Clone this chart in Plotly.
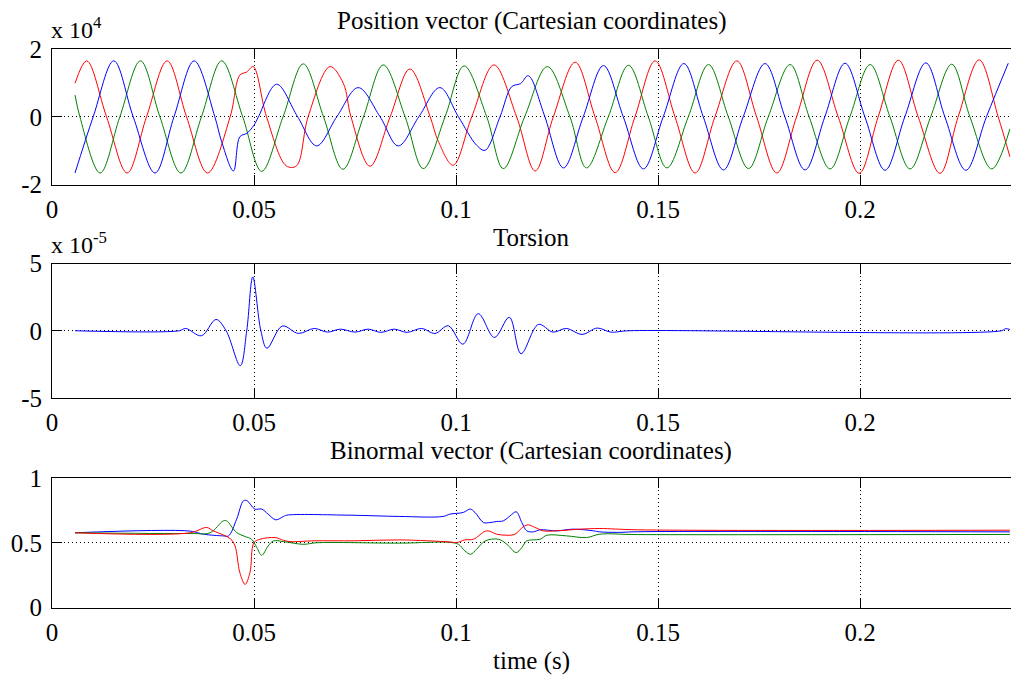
import plotly.graph_objects as go

# ---------------- Position vector (units of 1e4) ----------------
pos_red_t = [0.0057, 0.0086, 0.0135, 0.0186, 0.0234, 0.0285, 0.0333, 0.0385, 0.0441, 0.0465, 0.0482, 0.0498,
             0.0531, 0.0580, 0.0605, 0.0634, 0.0688, 0.0721, 0.0740, 0.0787, 0.0837, 0.0886, 0.0936, 0.0956,
             0.0993, 0.1039, 0.1094, 0.1150, 0.1196, 0.1241, 0.1295, 0.1344, 0.1394, 0.1443, 0.1493, 0.1542,
             0.1592, 0.1641, 0.1695, 0.1744, 0.1794, 0.1843, 0.1894, 0.1946, 0.1998, 0.2045, 0.2095, 0.2144,
             0.2198, 0.2243, 0.2295, 0.2342, 0.2371]
pos_red_v = [0.99, 1.65, 0.0, -1.66, 0.0, 1.65, 0.0, -1.66, 0.0, 1.23, 1.32, 1.48,
             0.0, -1.45, -1.45, 0.0, 1.48, 0.99, 0.0, -1.46, 0.0, 1.41, 0.0, -0.72,
             -1.43, 0.0, 1.53, 0.0, -1.60, 0.0, 1.61, 0.0, -1.65, 0.0, 1.65, 0.0,
             -1.66, 0.0, 1.65, 0.0, -1.66, 0.0, 1.67, 0.0, -1.67, 0.0, 1.67, 0.0,
             -1.67, 0.0, 1.68, 0.0, -1.18]

pos_green_t = [0.0057, 0.0069, 0.0119, 0.0168, 0.0219, 0.0267, 0.0319, 0.0370, 0.0420, 0.0472, 0.0519, 0.0572,
               0.0622, 0.0672, 0.0720, 0.0771, 0.0820, 0.0874, 0.0919, 0.0973, 0.1020, 0.1076, 0.1117, 0.1170,
               0.1226, 0.1282, 0.1323, 0.1377, 0.1427, 0.1476, 0.1522, 0.1575, 0.1625, 0.1674, 0.1724, 0.1773,
               0.1827, 0.1874, 0.1926, 0.1975, 0.2025, 0.2074, 0.2124, 0.2175, 0.2227, 0.2272, 0.2326, 0.2371]
pos_green_v = [0.64, 0.0, -1.66, 0.0, 1.65, 0.0, -1.66, 0.0, 1.65, 0.0, -1.61, 0.0,
               1.56, 0.0, -1.55, 0.0, 1.53, 0.0, -1.53, 0.0, 1.50, 0.0, -1.53, 0.0,
               1.48, 0.0, -1.51, 0.0, 1.52, 0.0, -1.51, 0.0, 1.54, 0.0, -1.53, 0.0,
               1.54, 0.0, -1.54, 0.0, 1.54, 0.0, -1.54, 0.0, 1.55, 0.0, -1.54, -0.36]

pos_blue_t = [0.0057, 0.0102, 0.0153, 0.0201, 0.0255, 0.0302, 0.0352, 0.0403, 0.0420, 0.0449, 0.0465, 0.0482,
              0.0500, 0.0511, 0.0556, 0.0608, 0.0655, 0.0705, 0.0758, 0.0812, 0.0857, 0.0908, 0.0960, 0.1006,
              0.1051, 0.1072, 0.1109, 0.1138, 0.1160, 0.1177, 0.1185, 0.1220, 0.1266, 0.1315, 0.1365, 0.1414,
              0.1464, 0.1513, 0.1564, 0.1612, 0.1662, 0.1711, 0.1765, 0.1814, 0.1864, 0.1913, 0.1963, 0.2012,
              0.2062, 0.2111, 0.2163, 0.2210, 0.2262, 0.2313, 0.2367]
pos_blue_v = [-1.66, 0.0, 1.65, 0.0, -1.66, 0.0, 1.65, 0.0, -0.74, -1.60, -0.59, -0.49,
              -0.25, 0.0, 0.96, 0.0, -0.86, 0.0, 0.86, 0.0, -0.86, 0.0, 0.86, 0.0,
              -0.84, -0.99, 0.0, 0.89, 0.98, 1.21, 1.15, 0.0, -1.51, 0.0, 1.51, 0.0,
              -1.54, 0.0, 1.57, 0.0, -1.57, 0.0, 1.57, 0.0, -1.57, 0.0, 1.58, 0.0,
              -1.58, 0.0, 1.59, 0.0, -1.58, 0.0, 1.58]

# ---------------- Torsion (units of 1e-5) ----------------
tor_t = [0.0057, 0.0315, 0.0331, 0.0370, 0.0406, 0.0431, 0.0466, 0.0482, 0.0497, 0.0517, 0.0532, 0.0570,
         0.0610, 0.0649, 0.0682, 0.0714, 0.0750, 0.0783, 0.0814, 0.0847, 0.0879, 0.0915, 0.0948, 0.0981,
         0.1017, 0.1055, 0.1095, 0.1132, 0.1161, 0.1204, 0.1240, 0.1273, 0.1312, 0.1350, 0.1383, 0.1427,
         0.2350, 0.2360, 0.2371]
tor_v = [0.0, 0.0, 0.17, -0.37, 0.84, 0.0, -2.6, 0.0, 4.0, 0.0, -1.3, 0.35,
         -0.2, 0.17, -0.1, 0.12, -0.1, 0.12, -0.12, 0.12, -0.12, 0.17, -0.2, 0.37,
         -1.0, 1.27, -0.5, 1.0, -1.7, 0.47, -0.1, 0.17, -0.27, 0.2, -0.1, 0.0,
         0.0, 0.15, 0.1]

# ---------------- Binormal vector ----------------
bin_red_t = [0.0057, 0.0342, 0.0383, 0.0399, 0.0441, 0.0453, 0.0465, 0.0478, 0.0490, 0.0500, 0.0515, 0.0552,
             0.0573, 0.0589, 0.0650, 0.0750, 0.0861, 0.0985, 0.1002, 0.1022, 0.1043, 0.1076, 0.1101, 0.1126,
             0.1146, 0.1167, 0.1179, 0.1196, 0.1216, 0.1249, 0.1307, 0.1356, 0.1450, 0.2371]
bin_red_v = [0.577, 0.577, 0.618, 0.592, 0.532, 0.475, 0.269, 0.178, 0.270, 0.501, 0.527, 0.540,
             0.519, 0.509, 0.515, 0.515, 0.522, 0.506, 0.501, 0.522, 0.527, 0.592, 0.566, 0.558,
             0.566, 0.625, 0.638, 0.618, 0.592, 0.592, 0.605, 0.610, 0.600, 0.597]

bin_green_t = [0.0057, 0.0342, 0.0391, 0.0424, 0.0432, 0.0457, 0.0478, 0.0494, 0.0507, 0.0519, 0.0535, 0.0548,
               0.0573, 0.0622, 0.0655, 0.0861, 0.0985, 0.1006, 0.1022, 0.1036, 0.1051, 0.1072, 0.1105, 0.1126,
               0.1149, 0.1163, 0.1175, 0.1208, 0.1225, 0.1274, 0.1323, 0.1356, 0.1450, 0.2371]
bin_green_v = [0.577, 0.572, 0.577, 0.669, 0.669, 0.579, 0.548, 0.527, 0.463, 0.403, 0.475, 0.514,
               0.509, 0.488, 0.500, 0.497, 0.503, 0.488, 0.437, 0.411, 0.450, 0.514, 0.527, 0.488,
               0.424, 0.463, 0.514, 0.527, 0.558, 0.553, 0.540, 0.566, 0.563, 0.564]

bin_blue_t = [0.0057, 0.0342, 0.0375, 0.0424, 0.0437, 0.0457, 0.0474, 0.0483, 0.0502, 0.0519, 0.0535, 0.0554,
              0.0573, 0.0581, 0.0735, 0.0861, 0.0968, 0.0985, 0.1018, 0.1035, 0.1047, 0.1068, 0.1084, 0.1101,
              0.1117, 0.1134, 0.1149, 0.1163, 0.1175, 0.1191, 0.1208, 0.1249, 0.1290, 0.1340, 0.1356, 0.1400,
              0.1450, 0.2371]
bin_blue_v = [0.577, 0.590, 0.566, 0.553, 0.553, 0.682, 0.824, 0.824, 0.760, 0.760, 0.721, 0.677,
              0.703, 0.713, 0.713, 0.703, 0.703, 0.721, 0.734, 0.760, 0.734, 0.656, 0.656, 0.664,
              0.669, 0.708, 0.739, 0.656, 0.592, 0.584, 0.600, 0.592, 0.605, 0.592, 0.584, 0.580,
              0.585, 0.584]

x_tickvals = [0, 0.05, 0.1, 0.15, 0.2]
x_ticktext = ["0", "0.05", "0.1", "0.15", "0.2"]

RED, GREEN, BLUE = "#ff0000", "#008000", "#0000ff"
FONT = "Liberation Serif"
W, H = 1011, 679

fig = go.Figure()

def add(t, v, color, ax):
    fig.add_trace(go.Scatter(x=t, y=v, mode="lines", xaxis="x" + ax, yaxis="y" + ax,
                             line=dict(color=color, width=1, shape="spline", smoothing=1.0),
                             hoverinfo="skip"))

add(pos_red_t, pos_red_v, RED, "")
add(pos_green_t, pos_green_v, GREEN, "")
add(pos_blue_t, pos_blue_v, BLUE, "")
add(tor_t, tor_v, BLUE, "2")
add(bin_blue_t, bin_blue_v, BLUE, "3")
add(bin_green_t, bin_green_v, GREEN, "3")
add(bin_red_t, bin_red_v, RED, "3")

def px_dom(top, bottom):
    return [1 - bottom / H, 1 - top / H]

x_left = 52 / W
xr = [0, (W - 52) / 4040.0]
tickfont = dict(family=FONT, size=25, color="black")
DOT = "1px,3px"

def xaxis(anchor):
    return dict(domain=[x_left, 1.0], range=xr, anchor=anchor, tickvals=x_tickvals, ticktext=x_ticktext,
                showline=True, linecolor="black", linewidth=1, mirror="ticks", ticks="inside", ticklen=10,
                tickcolor="black", showgrid=True, gridcolor="black", griddash=DOT, gridwidth=1,
                zeroline=False, tickfont=tickfont, ticklabelstandoff=2, fixedrange=True, automargin=False)

def yaxis(anchor, dom, rng, vals, texts):
    return dict(domain=dom, range=rng, anchor=anchor, tickvals=vals, ticktext=texts,
                showline=True, linecolor="black", linewidth=1, mirror=False, ticks="inside", ticklen=10,
                tickcolor="black", showgrid=True, gridcolor="black", griddash=DOT, gridwidth=1,
                zeroline=False, tickfont=tickfont, ticklabelstandoff=4, fixedrange=True, automargin=False)

fig.update_layout(
    width=W, height=H, margin=dict(l=0, r=0, t=0, b=0, pad=0, autoexpand=False),
    paper_bgcolor="white", plot_bgcolor="white", showlegend=False,
    xaxis=xaxis("y"), xaxis2=xaxis("y2"), xaxis3=xaxis("y3"),
    yaxis=yaxis("x", px_dom(49, 184.5), [-2, 2], [-2, 0, 2], ["-2", "0", "2"]),
    yaxis2=yaxis("x2", px_dom(263.5, 398), [-5, 5], [-5, 0, 5], ["-5", "0", "5"]),
    yaxis3=yaxis("x3", px_dom(478, 607.5), [0, 1], [0, 0.5, 1], ["0", "0.5", "1"]),
)

def note(text, xpx, ypx, size=25, xanchor="center"):
    fig.add_annotation(text=text, x=xpx / W, y=1 - ypx / H, xref="paper", yref="paper",
                       xanchor=xanchor, yanchor="middle", showarrow=False,
                       font=dict(family=FONT, size=size, color="black"))

cx = (52 + 1010) / 2
note("Position vector (Cartesian coordinates)", cx, 21)
note("Torsion", cx, 237)
note("Binormal vector (Cartesian coordinates)", cx, 451)
note("time (s)", cx, 661)
note("x 10<sup>4</sup>", 49, 28, size=24, xanchor="left")
note("x 10<sup>-5</sup>", 49, 243, size=24, xanchor="left")

fig.write_html("out.html")
